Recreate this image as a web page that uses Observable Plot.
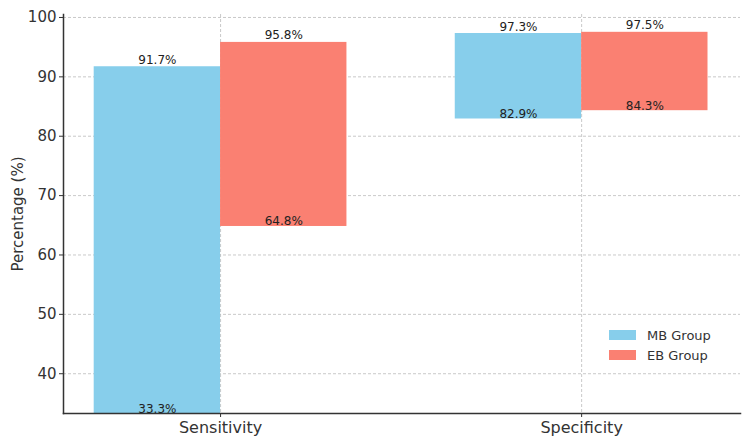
<!DOCTYPE html>
<html>
<head>
<meta charset="utf-8">
<script src="https://cdn.jsdelivr.net/npm/d3@7"></script>
<script src="https://cdn.jsdelivr.net/npm/@observablehq/plot@0.6"></script>
<style>
  html, body { margin: 0; padding: 0; background: #fff; }
  #wrap { position: relative; width: 744px; height: 439px; font-family: "DejaVu Sans", sans-serif; }
  .legend { position: absolute; left: 609px; top: 325px; font-size: 13px; color: #333; }
  .legend .item { display: flex; align-items: center; height: 20px; }
  .legend .sw { width: 27px; height: 10px; margin-right: 11px; }
</style>
</head>
<body>
<div id="wrap"></div>
<script>
const categories = ["Sensitivity", "Specificity"];
const groups = ["MB Group", "EB Group"];
const groupColors = ["#87CEEB", "#FA8072"];
const mbLow = [33.3, 82.9];
const mbHigh = [91.7, 97.3];
const ebLow = [64.8, 84.3];
const ebHigh = [95.8, 97.5];
const yTicks = [40, 50, 60, 70, 80, 90, 100];
const barWidth = 0.35;

const rows = [];
categories.forEach((c, i) => {
  rows.push({cat: i, group: groups[0], low: mbLow[i], high: mbHigh[i], x1: i - barWidth, x2: i});
  rows.push({cat: i, group: groups[1], low: ebLow[i], high: ebHigh[i], x1: i, x2: i + barWidth});
});
rows.forEach(d => d.xc = (d.x1 + d.x2) / 2);

const chart = Plot.plot({
  width: 744,
  height: 439,
  marginLeft: 63,
  marginRight: 4,
  marginTop: 14,
  marginBottom: 26,
  style: {fontFamily: "DejaVu Sans, sans-serif", color: "#333", background: "#fff"},
  x: {domain: [-0.435, 1.44]},
  y: {domain: [33.3, 100.5]},
  color: {domain: groups, range: groupColors},
  marks: [
    Plot.gridY(yTicks, {stroke: "#bbb", strokeOpacity: 1, strokeDasharray: "3,2", strokeWidth: 0.8}),
    Plot.gridX([0, 1], {stroke: "#bbb", strokeOpacity: 1, strokeDasharray: "3,2", strokeWidth: 0.8}),
    Plot.rect(rows, {x1: "x1", x2: "x2", y1: "low", y2: "high", fill: "group"}),
    Plot.text(rows, {x: "xc", y: "high", text: d => d.high.toFixed(1) + "%", lineAnchor: "bottom", dy: -3, fontSize: 12, fill: "#222"}),
    Plot.text(rows, {x: "xc", y: "low", text: d => d.low.toFixed(1) + "%", lineAnchor: "bottom", dy: -1, fontSize: 12, fill: "#222"}),
    Plot.axisY(yTicks, {tickSize: 4, tickPadding: 3, fontSize: 15, label: "Percentage (%)", labelAnchor: "center", labelArrow: "none", labelOffset: 51}),
    Plot.axisX([0, 1], {tickSize: 4, tickPadding: 4, fontSize: 16, tickFormat: i => categories[i], label: null}),
    Plot.frame({anchor: "left", stroke: "#333", strokeWidth: 1.5}),
    Plot.frame({anchor: "bottom", stroke: "#333", strokeWidth: 1.5})
  ]
});
const wrap = document.getElementById("wrap");
wrap.appendChild(chart);

const legend = document.createElement("div");
legend.className = "legend";
groups.forEach((g, i) => {
  const item = document.createElement("div");
  item.className = "item";
  const sw = document.createElement("span");
  sw.className = "sw";
  sw.style.background = groupColors[i];
  const t = document.createElement("span");
  t.textContent = g;
  item.appendChild(sw);
  item.appendChild(t);
  legend.appendChild(item);
});
wrap.appendChild(legend);
</script>
</body>
</html>
